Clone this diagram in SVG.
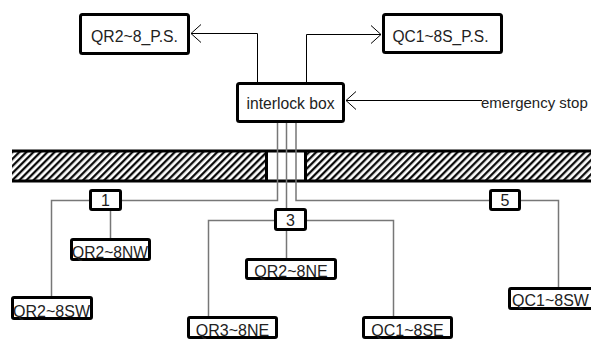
<svg xmlns="http://www.w3.org/2000/svg" width="591" height="340" viewBox="0 0 591 340">
<style>
.box{fill:#fff;stroke:#000;stroke-width:3}
.t{font-family:"Liberation Sans",Arial,sans-serif;font-size:16px;fill:#222}
.m{text-anchor:middle}
.c{fill:none;stroke:#000;stroke-width:1}
.g{fill:none;stroke:#777;stroke-width:1.5}
</style>
<defs>
<pattern id="hatch" patternUnits="userSpaceOnUse" width="5" height="5" patternTransform="rotate(45)">
<rect width="5" height="5" fill="#fff"/>
<line x1="1.2" y1="0" x2="1.2" y2="5" stroke="#000" stroke-width="2.2"/>
</pattern>
</defs>

<g id="wall">
<rect x="12" y="151" width="579" height="30" fill="url(#hatch)"/>
<rect x="266" y="151" width="40" height="30" fill="#fff"/>
<line x1="12" y1="151" x2="591" y2="151" stroke="#000" stroke-width="3"/>
<line x1="12" y1="181" x2="591" y2="181" stroke="#000" stroke-width="3"/>
<line x1="266.5" y1="151" x2="266.5" y2="181" stroke="#000" stroke-width="3"/>
<line x1="305.5" y1="151" x2="305.5" y2="181" stroke="#000" stroke-width="3"/>
</g>

<g id="connectors">
<path class="c" d="M257.5,83 V33.5 H191"/>
<path class="c" d="M201,24.5 L191,33.5 L201,42.5"/>
<path class="c" d="M306.5,83 V34.5 H381"/>
<path class="c" d="M371,25.5 L381,34.5 L371,43.5"/>
<path class="c" d="M482,100.5 H346"/>
<path class="c" d="M356,91.5 L346,100.5 L356,109.5"/>
<path class="g" d="M277.5,122 V200.5 H121"/>
<path class="g" d="M286.5,122 V209" stroke-width="2"/>
<path class="g" d="M296,122 V200.5 H490"/>
<path class="g" d="M90,200.5 H51.5 V297"/>
<path class="g" d="M110.5,210 V239"/>
<path class="g" d="M275,220.5 H208.5 V317"/>
<path class="g" d="M306,220.5 H393.5 V317"/>
<path class="g" d="M286.5,230 V259"/>
<path class="g" d="M520,200.5 H558.5 V288"/>
</g>

<g id="qr2-ps">
<rect class="box" x="80.5" y="14.5" width="108" height="39" rx="2"/>
<text class="t m" x="134.5" y="42" textLength="87" lengthAdjust="spacingAndGlyphs">QR2~8_P.S.</text>
</g>
<g id="qc1-ps">
<rect class="box" x="383.5" y="14.5" width="118" height="38" rx="2"/>
<text class="t m" x="440.5" y="42" textLength="96" lengthAdjust="spacingAndGlyphs">QC1~8S_P.S.</text>
</g>
<g id="interlock">
<rect class="box" x="237.5" y="83.5" width="106" height="38" rx="2"/>
<text class="t m" x="290.5" y="109" textLength="88" lengthAdjust="spacingAndGlyphs">interlock box</text>
</g>
<g id="emergency">
<text class="t" x="481" y="108" style="font-size:15px">emergency stop</text>
</g>

<g id="n1">
<rect class="box" x="90.5" y="190.5" width="30" height="19" rx="1.5"/>
<text class="t m" x="105.5" y="206">1</text>
</g>
<g id="n3">
<rect class="box" x="275.5" y="209.5" width="30" height="20" rx="1.5"/>
<text class="t m" x="290.5" y="226">3</text>
</g>
<g id="n5">
<rect class="box" x="490.5" y="190.5" width="29" height="19" rx="1.5"/>
<text class="t m" x="505" y="206">5</text>
</g>

<g id="qr2-nw">
<rect class="box" x="71.5" y="239.5" width="78" height="20" rx="1.5"/>
<text class="t" x="72" y="258" textLength="76" lengthAdjust="spacingAndGlyphs">QR2~8NW</text>
</g>
<g id="qr2-sw">
<rect class="box" x="12.5" y="297.5" width="79" height="21" rx="1.5"/>
<text class="t" x="13" y="317" textLength="77" lengthAdjust="spacingAndGlyphs">QR2~8SW</text>
</g>
<g id="qr2-ne">
<rect class="box" x="246.5" y="259.5" width="89" height="19" rx="1.5"/>
<text class="t m" x="291" y="277">QR2~8NE</text>
</g>
<g id="qr3-ne">
<rect class="box" x="188.5" y="317.5" width="88" height="20" rx="1.5"/>
<text class="t m" x="232.5" y="336">QR3~8NE</text>
</g>
<g id="qc1-se">
<rect class="box" x="363.5" y="317.5" width="88" height="20" rx="1.5"/>
<text class="t m" x="407.5" y="336">QC1~8SE</text>
</g>
<g id="qc1-sw">
<rect class="box" x="509.5" y="288.5" width="100" height="20" rx="1.5"/>
<text class="t" x="512" y="306">QC1~8SW</text>
</g>
</svg>
